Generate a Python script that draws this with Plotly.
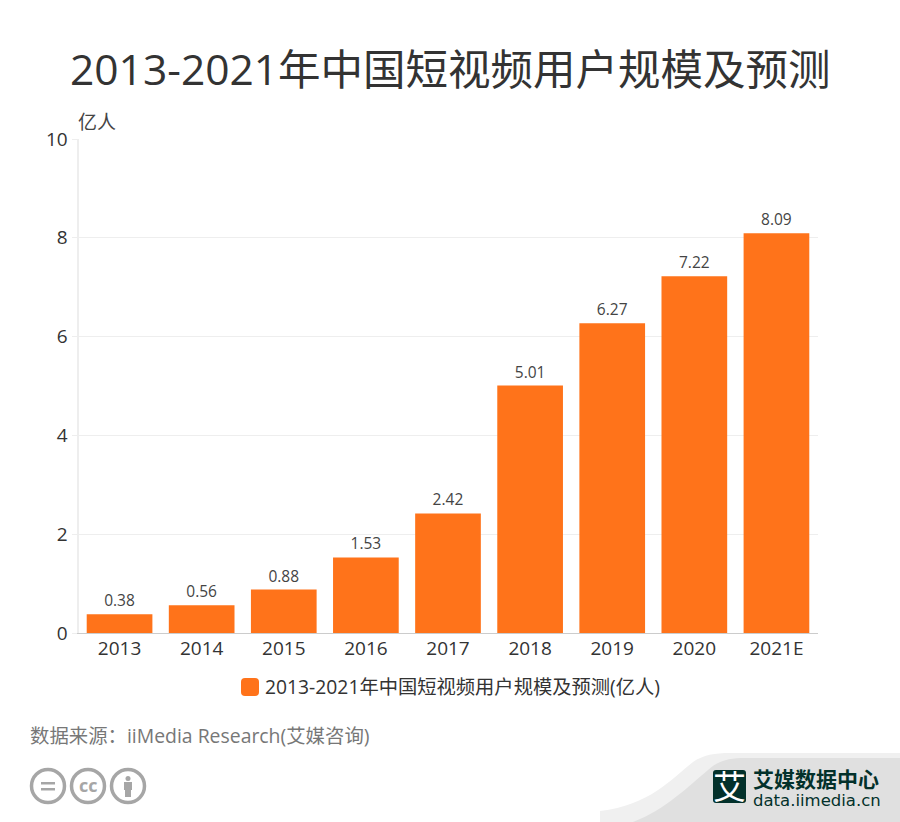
import plotly.graph_objects as go

W, H = 900, 822
FONT = "Open Sans, Noto Sans CJK SC"

years = ['2013', '2014', '2015', '2016', '2017', '2018', '2019', '2020', '2021E']
users = [0.38, 0.56, 0.88, 1.53, 2.42, 5.01, 6.27, 7.22, 8.09]
y_ticks = [0, 2, 4, 6, 8, 10]
title = '2013-2021年中国短视频用户规模及预测'
series_name = '2013-2021年中国短视频用户规模及预测(亿人)'
source = '数据来源：iiMedia Research(艾媒咨询)'


def px(x):
    return x / W


def py(y):
    return 1 - y / H


def path(*cmds):
    # cmds are (letter, x1, y1, ...) in page pixels
    out = []
    for c in cmds:
        pts = c[1:]
        s = c[0]
        for i in range(0, len(pts), 2):
            s += f' {px(pts[i]):.5f},{py(pts[i + 1]):.5f}'
        out.append(s)
    return ' '.join(out)


def fill_shape(d, color):
    return dict(type='path', xref='paper', yref='paper', path=d,
                fillcolor=color, line=dict(width=0), layer='below')


def text(x, y, s, size, color, anchor='left', font=FONT):
    return dict(x=px(x), y=py(y), xref='paper', yref='paper', text=s, showarrow=False,
                xanchor=anchor, yanchor='middle', font=dict(family=font, size=size, color=color))


def circle(cx, cy, r):
    return dict(type='circle', xref='paper', yref='paper', x0=px(cx - r), x1=px(cx + r),
                y0=py(cy + r), y1=py(cy - r), line=dict(color='#a6a6a6', width=3.5))


def rounded(x0, y0, x1, y1, r, color):
    return fill_shape(path(('M', x0 + r, y0), ('L', x1 - r, y0), ('Q', x1, y0, x1, y0 + r),
                           ('L', x1, y1 - r), ('Q', x1, y1, x1 - r, y1), ('L', x0 + r, y1),
                           ('Q', x0, y1, x0, y1 - r), ('L', x0, y0 + r), ('Q', x0, y0, x0 + r, y0)) + ' Z', color)


fig = go.Figure(go.Bar(
    x=years, y=users, marker=dict(color='#ff731a', line=dict(width=0)),
    text=[f'{v:.2f}' for v in users], textposition='outside', cliponaxis=False,
    textfont=dict(family=FONT, size=15.5, color='#444444'), name=series_name,
))

shapes = [
    # footer swoosh behind the logo
    fill_shape(path(('M', 600, 811), ('C', 650, 805, 670, 780, 693, 762), ('C', 703, 755, 715, 753, 730, 753),
                    ('L', 900, 753), ('L', 900, 822), ('L', 600, 822)) + ' Z', '#f0f0f0'),
    fill_shape(path(('M', 633, 822), ('C', 665, 810, 690, 785, 708, 770), ('C', 718, 761, 728, 758, 745, 758),
                    ('L', 900, 758), ('L', 900, 822)) + ' Z', '#e0e0e0'),
    rounded(713, 770, 746, 803, 3, '#03312b'),
    # legend swatch
    rounded(241, 678, 259, 696, 4, '#ff731a'),
    # licence icons
    circle(48, 786, 16.5), circle(88, 786, 16.5), circle(128, 786, 16.5),
    fill_shape(path(('M', 41, 782), ('L', 55, 782), ('L', 55, 784.5), ('L', 41, 784.5)) + ' Z', '#a6a6a6'),
    fill_shape(path(('M', 41, 788), ('L', 55, 788), ('L', 55, 790.5), ('L', 41, 790.5)) + ' Z', '#a6a6a6'),
    dict(type='circle', xref='paper', yref='paper', x0=px(125.5), x1=px(130.5), y0=py(781), y1=py(776),
         fillcolor='#a6a6a6', line=dict(width=0)),
    fill_shape(path(('M', 124, 782), ('L', 132, 782), ('L', 132, 790), ('L', 131, 790), ('L', 131, 797),
                    ('L', 125, 797), ('L', 125, 790), ('L', 124, 790)) + ' Z', '#a6a6a6'),
]

annotations = [
    text(450, 69, title, 42.5, '#333333', 'center'),
    text(76, 122, '亿人', 19, '#444444'),
    text(263, 686, series_name, 19.3, '#333333'),
    text(28, 735, source, 19.4, '#777777'),
    text(88, 785, '<b>cc</b>', 18, '#a6a6a6', 'center', 'Open Sans'),
    text(729.5, 786, '艾', 33, '#ffffff', 'center'),
    text(751, 779, '<b>艾媒数据中心</b>', 21, '#03312b'),
    text(751, 800, 'data.iimedia.cn', 16.5, '#03312b', 'left', 'DejaVu Sans'),
]

fig.update_layout(
    width=W, height=H, autosize=False,
    margin=dict(l=0, r=0, t=0, b=0, autoexpand=False),
    paper_bgcolor='white', plot_bgcolor='white',
    showlegend=False, bargap=0.2,
    shapes=shapes, annotations=annotations,
    xaxis=dict(domain=[px(78.5), px(817.5)], type='category', showgrid=False, ticks='',
               showline=True, linecolor='#cccccc', linewidth=1, ticklabelstandoff=-2,
               tickfont=dict(family=FONT, size=19, color='#333333')),
    yaxis=dict(domain=[py(633), py(139)], range=[0, 10], tickvals=y_ticks, showgrid=True,
               gridcolor='#eeeeee', gridwidth=1, zeroline=False, showline=True,
               linecolor='#eeeeee', linewidth=2, ticks='outside', ticklen=5, tickcolor='#eeeeee',
               tickfont=dict(family=FONT, size=19, color='#333333')),
)

# the page's default body margin would push the figure off the 900x822 window
fig.write_html("out.html", config=dict(displayModeBar=False),
               post_script="document.body.style.margin = '0';")
